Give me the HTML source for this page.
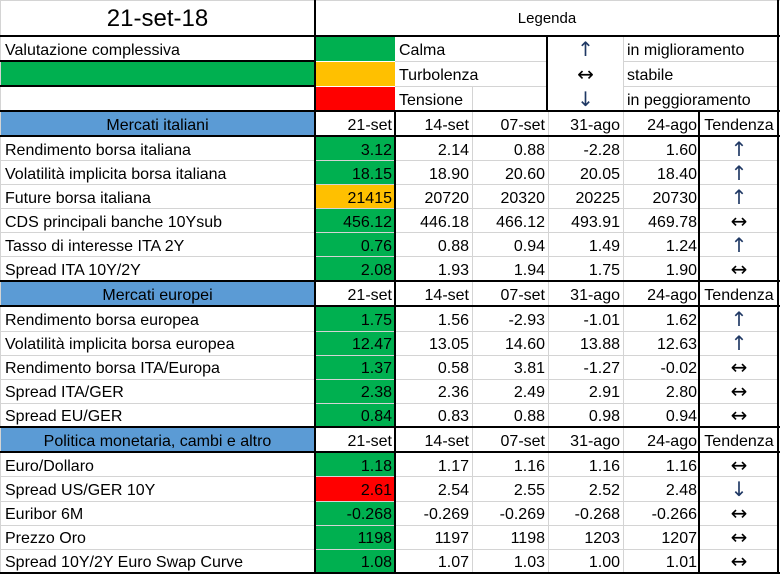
<!DOCTYPE html>
<html><head><meta charset="utf-8"><style>
body{margin:0;background:#fff;}
#c{position:relative;width:780px;height:574px;overflow:hidden;font-family:"Liberation Sans",sans-serif;font-size:16px;color:#000;}
.b{position:absolute;box-sizing:border-box;}
.t{position:absolute;white-space:nowrap;line-height:24px;margin-top:2px;}
.hl{position:absolute;height:1px;background:#d4d4d4;}
.vl{position:absolute;width:1px;background:#d4d4d4;}
.H{position:absolute;height:3px;background:#000;}
.V{position:absolute;width:3px;background:#000;}
.r{text-align:right;}
.a{font-family:"DejaVu Sans",sans-serif;font-size:20px;margin-top:0;}
.ar{color:#1f3864;}
</style></head><body><div id="c">
<div class="b" style="left:316px;top:37px;width:79px;height:24px;background:#00b050"></div>
<div class="b" style="left:0;top:62px;width:315px;height:24px;background:#00b050"></div>
<div class="b" style="left:316px;top:62px;width:79px;height:24px;background:#ffc000"></div>
<div class="b" style="left:316px;top:87px;width:79px;height:24px;background:#ff0000"></div>
<div class="b" style="left:0;top:112px;width:315px;height:24px;background:#5b9bd5"></div>
<div class="b" style="left:0;top:282px;width:315px;height:24px;background:#5b9bd5"></div>
<div class="b" style="left:0;top:428px;width:315px;height:24px;background:#5b9bd5"></div>
<div class="b" style="left:316px;top:137px;width:79px;height:144px;background:#00b050"></div>
<div class="b" style="left:316px;top:185px;width:79px;height:23px;background:#ffc000"></div>
<div class="b" style="left:316px;top:307px;width:79px;height:120px;background:#00b050"></div>
<div class="b" style="left:316px;top:453px;width:79px;height:120px;background:#00b050"></div>
<div class="b" style="left:316px;top:477px;width:79px;height:24px;background:#ff0000"></div>
<div class="hl" style="left:0;top:0;width:780px"></div>
<div class="vl" style="left:0;top:0;height:574px"></div>
<div class="hl" style="left:395px;top:61px;width:152px"></div>
<div class="hl" style="left:395px;top:86px;width:152px"></div>
<div class="hl" style="left:623px;top:61px;width:155px"></div>
<div class="hl" style="left:623px;top:86px;width:155px"></div>
<div class="vl" style="left:472px;top:86px;height:25px"></div>
<div class="vl" style="left:623px;top:37px;height:74px"></div>
<div class="vl" style="left:472px;top:137px;height:435px"></div>
<div class="vl" style="left:548px;top:137px;height:435px"></div>
<div class="vl" style="left:623px;top:137px;height:435px"></div>
<div class="hl" style="left:0;top:160px;width:778px"></div>
<div class="hl" style="left:0;top:184px;width:778px"></div>
<div class="hl" style="left:0;top:208px;width:778px"></div>
<div class="hl" style="left:0;top:232px;width:778px"></div>
<div class="hl" style="left:0;top:256px;width:778px"></div>
<div class="hl" style="left:0;top:331px;width:778px"></div>
<div class="hl" style="left:0;top:355px;width:778px"></div>
<div class="hl" style="left:0;top:379px;width:778px"></div>
<div class="hl" style="left:0;top:403px;width:778px"></div>
<div class="hl" style="left:0;top:476px;width:778px"></div>
<div class="hl" style="left:0;top:501px;width:778px"></div>
<div class="hl" style="left:0;top:525px;width:778px"></div>
<div class="hl" style="left:0;top:549px;width:778px"></div>
<div class="vl" style="left:472px;top:112px;height:24px"></div>
<div class="vl" style="left:548px;top:112px;height:24px"></div>
<div class="vl" style="left:623px;top:112px;height:24px"></div>
<div class="vl" style="left:472px;top:282px;height:24px"></div>
<div class="vl" style="left:548px;top:282px;height:24px"></div>
<div class="vl" style="left:623px;top:282px;height:24px"></div>
<div class="vl" style="left:472px;top:428px;height:24px"></div>
<div class="vl" style="left:548px;top:428px;height:24px"></div>
<div class="vl" style="left:623px;top:428px;height:24px"></div>
<div class="H" style="left:0;top:35px;width:780px;height:2px"></div>
<div class="H" style="left:0;top:60px;width:316px;height:2px"></div>
<div class="H" style="left:0;top:85px;width:316px;height:2px"></div>
<div class="H" style="left:0;top:110px;width:780px;height:2px"></div>
<div class="H" style="left:0;top:135px;width:780px;height:2px"></div>
<div class="H" style="left:0;top:280px;width:780px;height:2px"></div>
<div class="H" style="left:0;top:305px;width:780px;height:2px"></div>
<div class="H" style="left:0;top:426px;width:780px;height:2px"></div>
<div class="H" style="left:0;top:451px;width:780px;height:2px"></div>
<div class="H" style="left:0;top:572px;width:780px;height:2px"></div>
<div class="V" style="left:314px;top:0;height:574px;width:2px"></div>
<div class="V" style="left:394px;top:111px;height:463px;width:2px"></div>
<div class="V" style="left:546px;top:36px;height:76px;width:2px"></div>
<div class="V" style="left:698px;top:111px;height:463px;width:2px"></div>
<div class="V" style="left:777px;top:0;height:574px;width:2px"></div>
<div class="t" style="left:0;width:315px;top:2px;text-align:center;font-size:24px;line-height:30px">21-set-18</div>
<div class="t" style="left:316px;width:462px;top:5px;text-align:center;font-size:15px">Legenda</div>
<div class="t" style="left:5px;top:37px">Valutazione complessiva</div>
<div class="t" style="left:399px;top:37px">Calma</div>
<div class="t" style="left:399px;top:62px">Turbolenza</div>
<div class="t" style="left:399px;top:87px">Tensione</div>
<div class="t a ar" style="left:548px;width:75px;top:37px;text-align:center">↑</div>
<div class="t a" style="left:548px;width:75px;top:62px;text-align:center">↔</div>
<div class="t a ar" style="left:548px;width:75px;top:87px;text-align:center">↓</div>
<div class="t" style="left:627px;top:37px">in miglioramento</div>
<div class="t" style="left:627px;top:62px">stabile</div>
<div class="t" style="left:627px;top:87px">in peggioramento</div>
<div class="t" style="left:0;width:315px;top:112px;text-align:center">Mercati italiani</div>
<div class="t" style="left:0;width:315px;top:282px;text-align:center">Mercati europei</div>
<div class="t" style="left:0;width:315px;top:428px;text-align:center">Politica monetaria, cambi e altro</div>

<div class="t r" style="left:316px;width:76px;top:112px">21-set</div><div class="t r" style="left:396px;width:73px;top:112px">14-set</div><div class="t r" style="left:473px;width:72px;top:112px">07-set</div><div class="t r" style="left:549px;width:71px;top:112px">31-ago</div><div class="t r" style="left:624px;width:73px;top:112px">24-ago</div><div class="t" style="left:700px;width:78px;top:112px;text-align:center">Tendenza</div>
<div class="t r" style="left:316px;width:76px;top:282px">21-set</div><div class="t r" style="left:396px;width:73px;top:282px">14-set</div><div class="t r" style="left:473px;width:72px;top:282px">07-set</div><div class="t r" style="left:549px;width:71px;top:282px">31-ago</div><div class="t r" style="left:624px;width:73px;top:282px">24-ago</div><div class="t" style="left:700px;width:78px;top:282px;text-align:center">Tendenza</div>
<div class="t r" style="left:316px;width:76px;top:428px">21-set</div><div class="t r" style="left:396px;width:73px;top:428px">14-set</div><div class="t r" style="left:473px;width:72px;top:428px">07-set</div><div class="t r" style="left:549px;width:71px;top:428px">31-ago</div><div class="t r" style="left:624px;width:73px;top:428px">24-ago</div><div class="t" style="left:700px;width:78px;top:428px;text-align:center">Tendenza</div>

<div class="t" style="left:5px;top:137px">Rendimento borsa italiana</div><div class="t r" style="left:316px;width:76px;top:137px">3.12</div><div class="t r" style="left:396px;width:73px;top:137px">2.14</div><div class="t r" style="left:473px;width:72px;top:137px">0.88</div><div class="t r" style="left:549px;width:71px;top:137px">-2.28</div><div class="t r" style="left:624px;width:73px;top:137px">1.60</div><div class="t a ar" style="left:700px;width:78px;top:137px;text-align:center">↑</div>
<div class="t" style="left:5px;top:161px">Volatilità implicita borsa italiana</div><div class="t r" style="left:316px;width:76px;top:161px">18.15</div><div class="t r" style="left:396px;width:73px;top:161px">18.90</div><div class="t r" style="left:473px;width:72px;top:161px">20.60</div><div class="t r" style="left:549px;width:71px;top:161px">20.05</div><div class="t r" style="left:624px;width:73px;top:161px">18.40</div><div class="t a ar" style="left:700px;width:78px;top:161px;text-align:center">↑</div>
<div class="t" style="left:5px;top:185px">Future borsa italiana</div><div class="t r" style="left:316px;width:76px;top:185px">21415</div><div class="t r" style="left:396px;width:73px;top:185px">20720</div><div class="t r" style="left:473px;width:72px;top:185px">20320</div><div class="t r" style="left:549px;width:71px;top:185px">20225</div><div class="t r" style="left:624px;width:73px;top:185px">20730</div><div class="t a ar" style="left:700px;width:78px;top:185px;text-align:center">↑</div>
<div class="t" style="left:5px;top:209px">CDS principali banche 10Ysub</div><div class="t r" style="left:316px;width:76px;top:209px">456.12</div><div class="t r" style="left:396px;width:73px;top:209px">446.18</div><div class="t r" style="left:473px;width:72px;top:209px">466.12</div><div class="t r" style="left:549px;width:71px;top:209px">493.91</div><div class="t r" style="left:624px;width:73px;top:209px">469.78</div><div class="t a" style="left:700px;width:78px;top:209px;text-align:center">↔</div>
<div class="t" style="left:5px;top:233px">Tasso di interesse ITA 2Y</div><div class="t r" style="left:316px;width:76px;top:233px">0.76</div><div class="t r" style="left:396px;width:73px;top:233px">0.88</div><div class="t r" style="left:473px;width:72px;top:233px">0.94</div><div class="t r" style="left:549px;width:71px;top:233px">1.49</div><div class="t r" style="left:624px;width:73px;top:233px">1.24</div><div class="t a ar" style="left:700px;width:78px;top:233px;text-align:center">↑</div>
<div class="t" style="left:5px;top:257px">Spread ITA 10Y/2Y</div><div class="t r" style="left:316px;width:76px;top:257px">2.08</div><div class="t r" style="left:396px;width:73px;top:257px">1.93</div><div class="t r" style="left:473px;width:72px;top:257px">1.94</div><div class="t r" style="left:549px;width:71px;top:257px">1.75</div><div class="t r" style="left:624px;width:73px;top:257px">1.90</div><div class="t a" style="left:700px;width:78px;top:257px;text-align:center">↔</div>

<div class="t" style="left:5px;top:307px">Rendimento borsa europea</div><div class="t r" style="left:316px;width:76px;top:307px">1.75</div><div class="t r" style="left:396px;width:73px;top:307px">1.56</div><div class="t r" style="left:473px;width:72px;top:307px">-2.93</div><div class="t r" style="left:549px;width:71px;top:307px">-1.01</div><div class="t r" style="left:624px;width:73px;top:307px">1.62</div><div class="t a ar" style="left:700px;width:78px;top:307px;text-align:center">↑</div>
<div class="t" style="left:5px;top:331px">Volatilità implicita borsa europea</div><div class="t r" style="left:316px;width:76px;top:331px">12.47</div><div class="t r" style="left:396px;width:73px;top:331px">13.05</div><div class="t r" style="left:473px;width:72px;top:331px">14.60</div><div class="t r" style="left:549px;width:71px;top:331px">13.88</div><div class="t r" style="left:624px;width:73px;top:331px">12.63</div><div class="t a ar" style="left:700px;width:78px;top:331px;text-align:center">↑</div>
<div class="t" style="left:5px;top:355px">Rendimento borsa ITA/Europa</div><div class="t r" style="left:316px;width:76px;top:355px">1.37</div><div class="t r" style="left:396px;width:73px;top:355px">0.58</div><div class="t r" style="left:473px;width:72px;top:355px">3.81</div><div class="t r" style="left:549px;width:71px;top:355px">-1.27</div><div class="t r" style="left:624px;width:73px;top:355px">-0.02</div><div class="t a" style="left:700px;width:78px;top:355px;text-align:center">↔</div>
<div class="t" style="left:5px;top:379px">Spread ITA/GER</div><div class="t r" style="left:316px;width:76px;top:379px">2.38</div><div class="t r" style="left:396px;width:73px;top:379px">2.36</div><div class="t r" style="left:473px;width:72px;top:379px">2.49</div><div class="t r" style="left:549px;width:71px;top:379px">2.91</div><div class="t r" style="left:624px;width:73px;top:379px">2.80</div><div class="t a" style="left:700px;width:78px;top:379px;text-align:center">↔</div>
<div class="t" style="left:5px;top:403px">Spread EU/GER</div><div class="t r" style="left:316px;width:76px;top:403px">0.84</div><div class="t r" style="left:396px;width:73px;top:403px">0.83</div><div class="t r" style="left:473px;width:72px;top:403px">0.88</div><div class="t r" style="left:549px;width:71px;top:403px">0.98</div><div class="t r" style="left:624px;width:73px;top:403px">0.94</div><div class="t a" style="left:700px;width:78px;top:403px;text-align:center">↔</div>

<div class="t" style="left:5px;top:453px">Euro/Dollaro</div><div class="t r" style="left:316px;width:76px;top:453px">1.18</div><div class="t r" style="left:396px;width:73px;top:453px">1.17</div><div class="t r" style="left:473px;width:72px;top:453px">1.16</div><div class="t r" style="left:549px;width:71px;top:453px">1.16</div><div class="t r" style="left:624px;width:73px;top:453px">1.16</div><div class="t a" style="left:700px;width:78px;top:453px;text-align:center">↔</div>
<div class="t" style="left:5px;top:477px">Spread US/GER 10Y</div><div class="t r" style="left:316px;width:76px;top:477px">2.61</div><div class="t r" style="left:396px;width:73px;top:477px">2.54</div><div class="t r" style="left:473px;width:72px;top:477px">2.55</div><div class="t r" style="left:549px;width:71px;top:477px">2.52</div><div class="t r" style="left:624px;width:73px;top:477px">2.48</div><div class="t a ar" style="left:700px;width:78px;top:477px;text-align:center">↓</div>
<div class="t" style="left:5px;top:501px">Euribor 6M</div><div class="t r" style="left:316px;width:76px;top:501px">-0.268</div><div class="t r" style="left:396px;width:73px;top:501px">-0.269</div><div class="t r" style="left:473px;width:72px;top:501px">-0.269</div><div class="t r" style="left:549px;width:71px;top:501px">-0.268</div><div class="t r" style="left:624px;width:73px;top:501px">-0.266</div><div class="t a" style="left:700px;width:78px;top:501px;text-align:center">↔</div>
<div class="t" style="left:5px;top:525px">Prezzo Oro</div><div class="t r" style="left:316px;width:76px;top:525px">1198</div><div class="t r" style="left:396px;width:73px;top:525px">1197</div><div class="t r" style="left:473px;width:72px;top:525px">1198</div><div class="t r" style="left:549px;width:71px;top:525px">1203</div><div class="t r" style="left:624px;width:73px;top:525px">1207</div><div class="t a" style="left:700px;width:78px;top:525px;text-align:center">↔</div>
<div class="t" style="left:5px;top:549px">Spread 10Y/2Y Euro Swap Curve</div><div class="t r" style="left:316px;width:76px;top:549px">1.08</div><div class="t r" style="left:396px;width:73px;top:549px">1.07</div><div class="t r" style="left:473px;width:72px;top:549px">1.03</div><div class="t r" style="left:549px;width:71px;top:549px">1.00</div><div class="t r" style="left:624px;width:73px;top:549px">1.01</div><div class="t a" style="left:700px;width:78px;top:549px;text-align:center">↔</div>
</div></body></html>
